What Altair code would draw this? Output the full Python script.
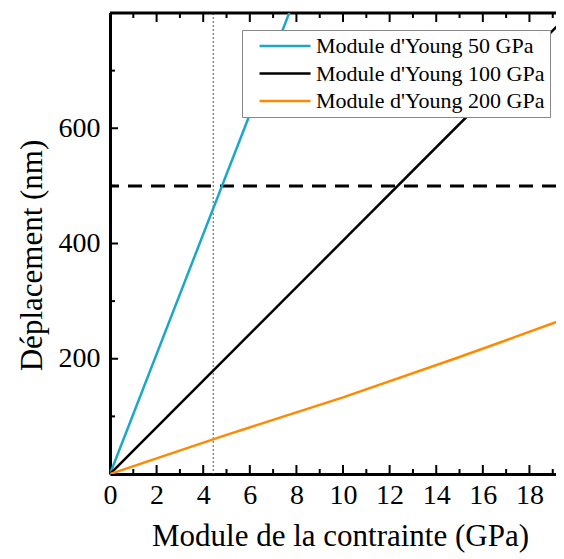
import altair as alt
import pandas as pd

# ---- data ----
series_names = ["Module d'Young 50 GPa", "Module d'Young 100 GPa", "Module d'Young 200 GPa"]
series_colors = ["#1CA7C8", "#000000", "#FF8A00"]

x_50 = [0, 8]
y_50 = [0, 832]
x_100 = [0, 20]
y_100 = [0, 810]
x_200 = [0, 5, 10, 15, 20]
y_200 = [0, 68, 133, 203, 276]

threshold_y = [500]
marker_x = [4.43]

x_labels = [0, 2, 4, 6, 8, 10, 12, 14, 16, 18]
x_minor = [1, 3, 5, 7, 9, 11, 13, 15, 17, 19]
y_labels = [200, 400, 600]
y_minor = [100, 300, 500, 700]

x_domain = [0, 19.14]
y_domain = [0, 800]

W, H = 446, 461
FONT = "Liberation Serif"
X_TITLE = "Module de la contrainte (GPa)"
Y_TITLE = "Déplacement (nm)"

rows = []
for name, xs_, ys_ in [(series_names[0], x_50, y_50),
                       (series_names[1], x_100, y_100),
                       (series_names[2], x_200, y_200)]:
    for xv, yv in zip(xs_, ys_):
        rows.append({"serie": name, "x": xv, "y": yv})
df = pd.DataFrame(rows)

xs = alt.Scale(domain=x_domain, nice=False, zero=False)
ys = alt.Scale(domain=y_domain, nice=False, zero=False)

x_axis = alt.Axis(values=x_labels, grid=False, ticks=False, domain=True,
                  domainColor="black", domainWidth=3, labelFontSize=28,
                  labelPadding=7, titleFontSize=31, titlePadding=12, titleX=230,
                  labelColor="black", titleColor="black", titleFontWeight="normal",
                  labelFlush=False)
y_axis = alt.Axis(values=y_labels, grid=False, ticks=False, domain=True,
                  domainColor="black", domainWidth=3, labelFontSize=28,
                  labelPadding=10, titleFontSize=31, titlePadding=10, titleY=242,
                  labelColor="black", titleColor="black", titleFontWeight="normal")


def X(field="x"):
    return alt.X(f"{field}:Q", scale=xs, title=X_TITLE, axis=x_axis)


def Y(field="y"):
    return alt.Y(f"{field}:Q", scale=ys, title=Y_TITLE, axis=y_axis)


lines = alt.Chart(df).mark_line(strokeWidth=2.5, clip=True).encode(
    x=X(), y=Y(),
    color=alt.Color("serie:N", scale=alt.Scale(domain=series_names, range=series_colors),
                    legend=alt.Legend(title=None, orient="none", legendX=132, legendY=17,
                                      symbolType="M0.18,0H6.18", symbolSize=289,
                                      symbolStrokeWidth=2.5, labelFontSize=22, labelFont=FONT,
                                      labelColor="black", strokeColor="#888888",
                                      fillColor="white", padding=5, rowPadding=5.5,
                                      labelOffset=47, labelLimit=400)),
    order=alt.Order("x:Q"),
)

hline = alt.Chart(pd.DataFrame({"y": threshold_y})).mark_rule(
    color="black", strokeWidth=3, strokeDash=[14, 9]).encode(y=Y())

vline = alt.Chart(pd.DataFrame({"x": marker_x})).mark_rule(
    color="#555555", strokeWidth=1, strokeDash=[2, 2]).encode(x=X())

top_frame = alt.Chart(pd.DataFrame({"a": [0]})).mark_rule(color="black", strokeWidth=3).encode(
    x=alt.value(0), x2=alt.value(W), y=alt.value(0))


def xticks(vals, length, top):
    d = pd.DataFrame({"x": vals})
    y0 = 0 if top else H
    y1 = length if top else H - length
    return alt.Chart(d).mark_rule(color="black", strokeWidth=2).encode(
        x=X(), y=alt.value(y0), y2=alt.value(y1))


def yticks(vals, length):
    d = pd.DataFrame({"y": vals})
    return alt.Chart(d).mark_rule(color="black", strokeWidth=2).encode(
        y=Y(), x=alt.value(0), x2=alt.value(length))


chart = alt.layer(
    vline, hline,
    xticks(x_labels, 9, False), xticks(x_minor, 5, False),
    xticks(x_labels, 9, True), xticks(x_minor, 5, True),
    yticks(y_labels, 8), yticks(y_minor, 5),
    top_frame,
    lines,
).properties(
    width=W, height=H,
    autosize=alt.AutoSizeParams(type="none"),
    padding={"left": 102, "top": 5, "right": 0, "bottom": 80},
).configure(font=FONT).configure_view(stroke=None)

chart.save("out.html", embed_options={"renderer": "svg", "actions": False})
